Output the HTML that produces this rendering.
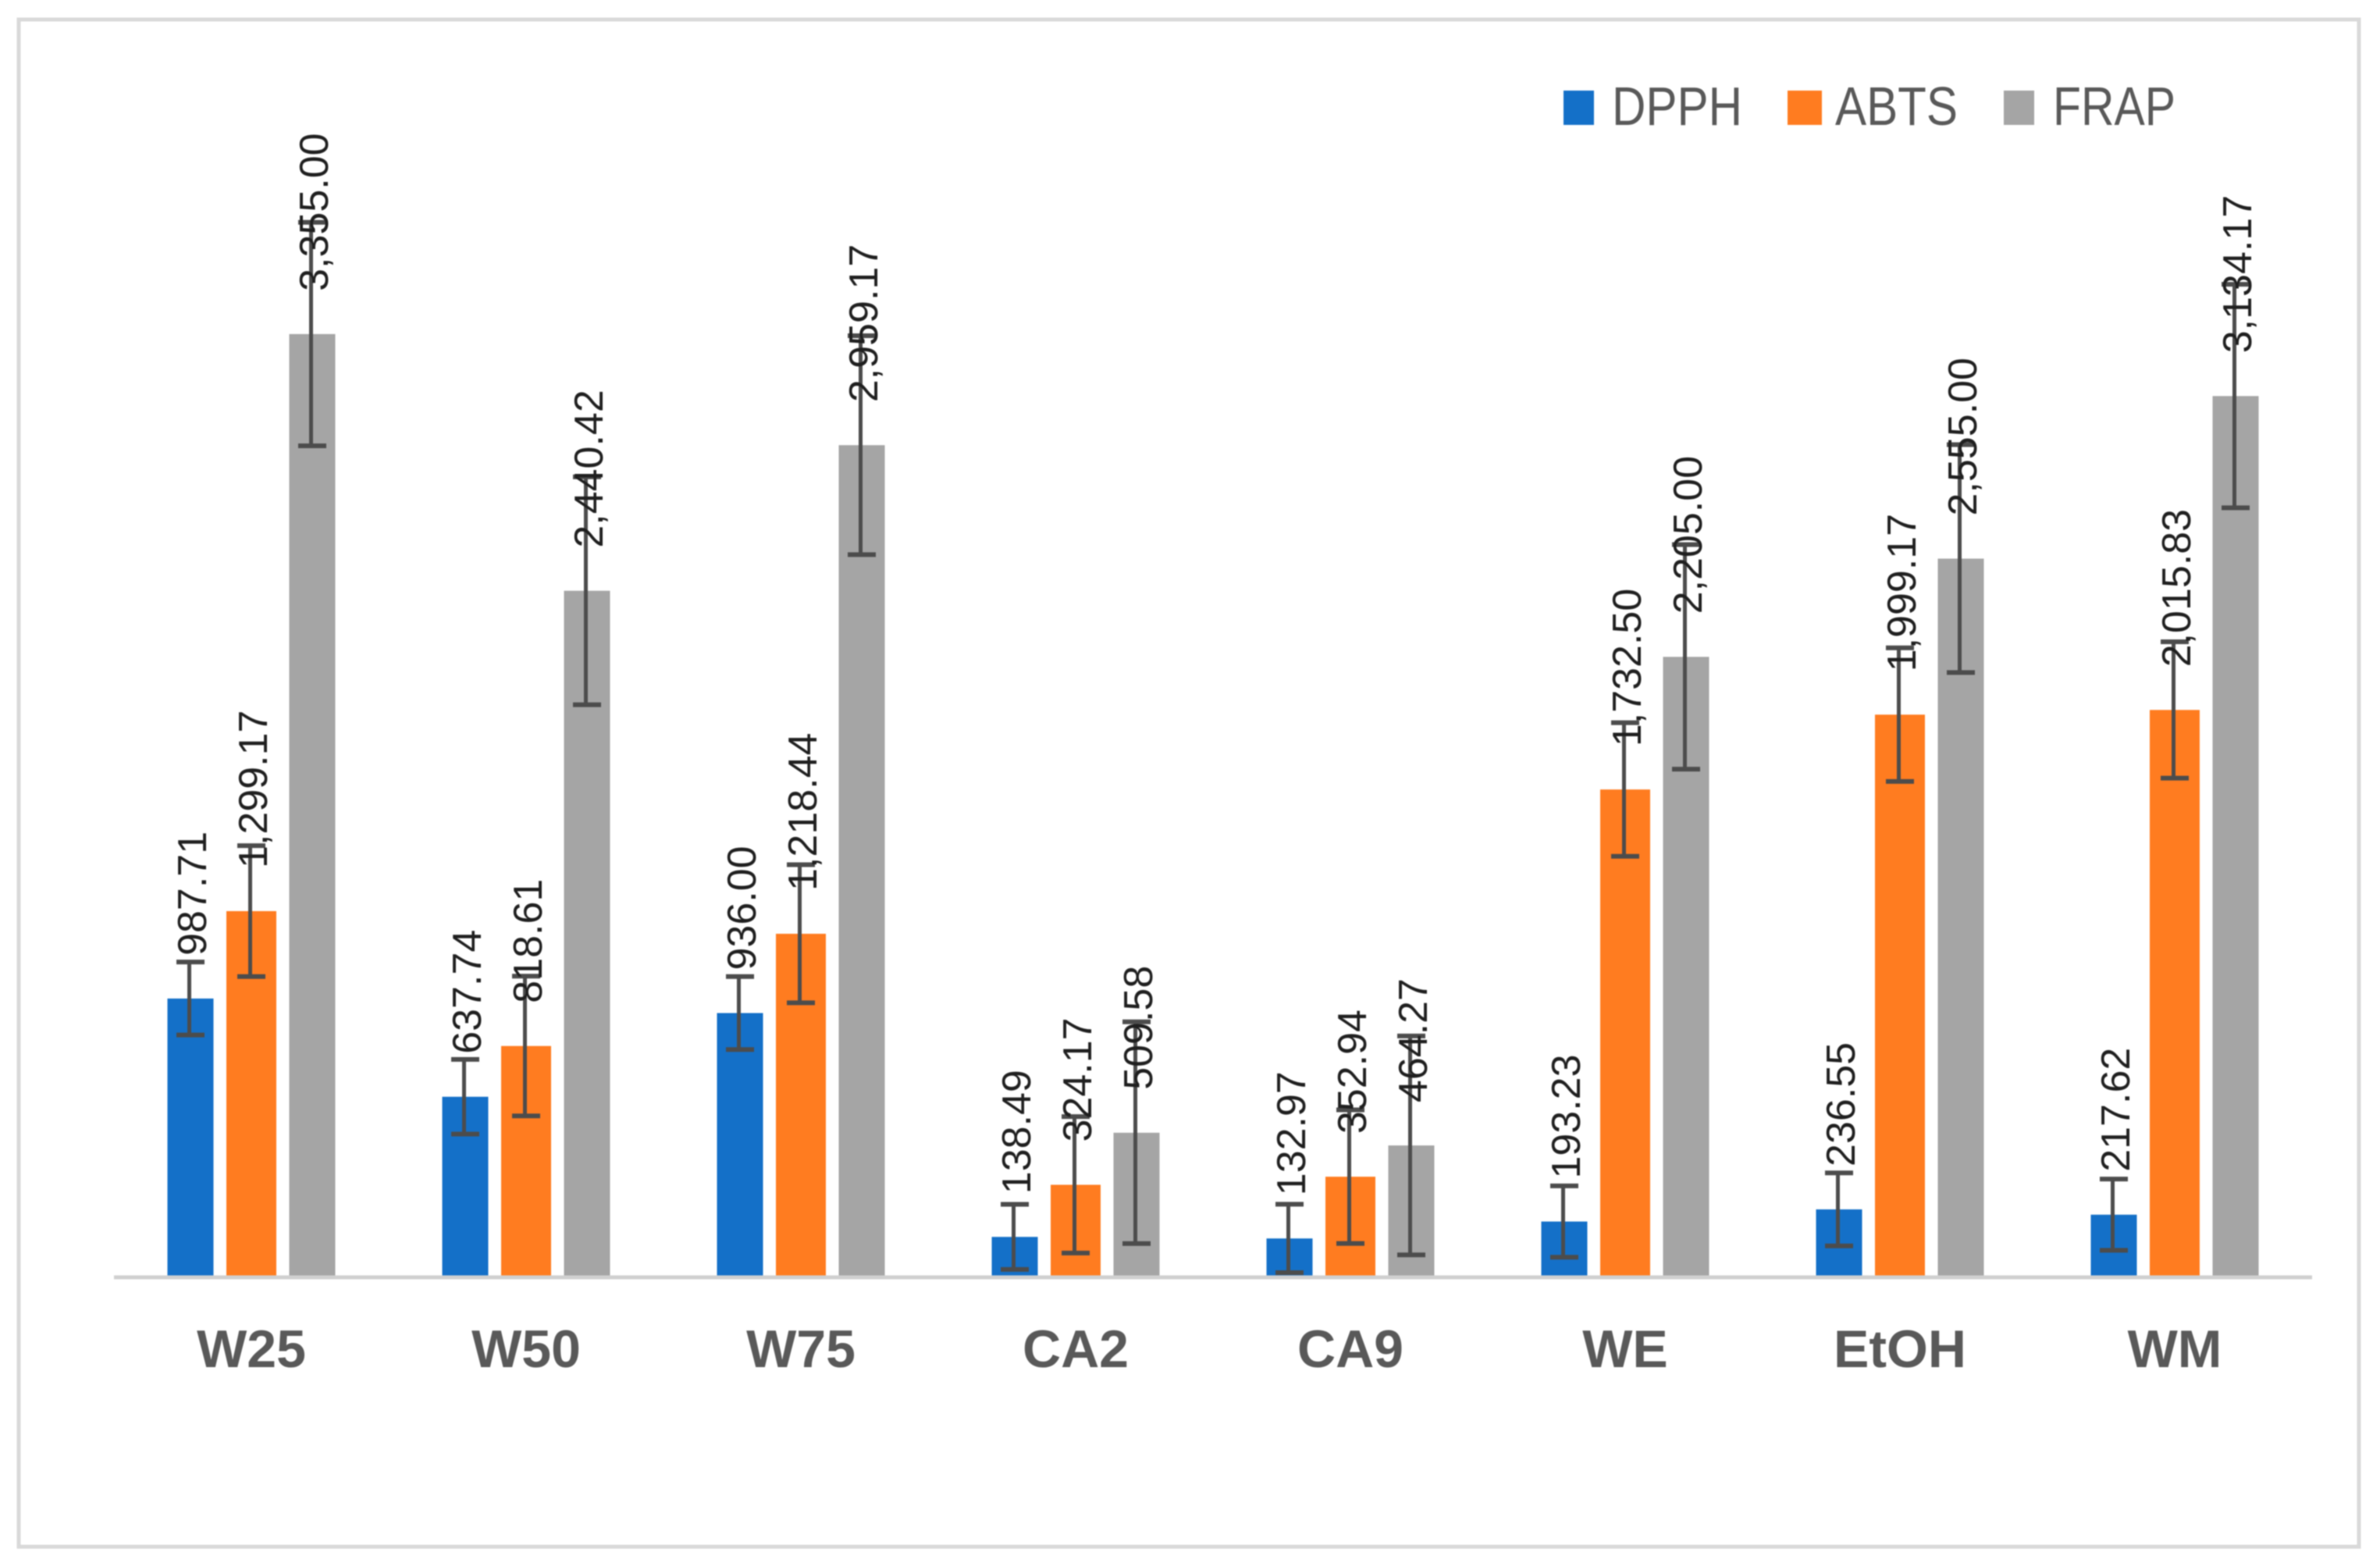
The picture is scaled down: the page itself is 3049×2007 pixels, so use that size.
<!DOCTYPE html>
<html lang="en">
<head>
<meta charset="utf-8">
<title>Antioxidant activity chart</title>
<style>
html,body{margin:0;padding:0;background:#fff;width:3049px;height:2007px;overflow:hidden}
svg{display:block;filter:blur(0.8px)}
text{font-family:"Liberation Sans",sans-serif}
</style>
</head>
<body>
<svg id="chart" xmlns="http://www.w3.org/2000/svg" width="3049" height="2007" viewBox="0 0 3049 2007">
  <rect x="0" y="0" width="3049" height="2007" fill="#ffffff"/>
  <rect x="24" y="25" width="2998" height="1956" fill="#ffffff" stroke="#d9d9d9" stroke-width="5"/>
  <g id="marks"></g>
  <line x1="146" y1="1636" x2="2962" y2="1636" stroke="#d0d0d0" stroke-width="5"/>
  <g id="labels"></g>
  <g>
    <g>
      <rect x="2003" y="116" width="39" height="44" fill="#1470c8"/>
      <text x="2065" y="160" font-size="70" fill="#595959" textLength="167" lengthAdjust="spacingAndGlyphs">DPPH</text>
    </g>
    <g>
      <rect x="2290" y="116" width="44" height="44" fill="#ff7c20"/>
      <text x="2351" y="160" font-size="70" fill="#595959" textLength="157" lengthAdjust="spacingAndGlyphs">ABTS</text>
    </g>
    <g>
      <rect x="2567" y="116" width="39" height="44" fill="#a5a5a5"/>
      <text x="2630" y="160" font-size="70" fill="#595959" textLength="157" lengthAdjust="spacingAndGlyphs">FRAP</text>
    </g>
  </g>
</svg>
<script>
const categories = ["W25", "W50", "W75", "CA2", "CA9", "WE", "EtOH", "WM"];
const dpphValues = [987.71, 637.74, 936.00, 138.49, 132.97, 193.23, 236.55, 217.62];
const abtsValues = [1299.17, 818.61, 1218.44, 324.17, 352.94, 1732.50, 1999.17, 2015.83];
const frapValues = [3355.00, 2440.42, 2959.17, 509.58, 464.27, 2205.00, 2555.00, 3134.17];
const dpphErrors = [130, 133, 130, 116, 122, 127, 130, 127];
const abtsErrors = [233, 249, 246, 243, 238, 238, 238, 243];
const frapErrors = [398, 406, 390, 395, 390, 400, 406, 398];

const SVG_NS = "http://www.w3.org/2000/svg";
const marks = document.getElementById("marks");
const labels = document.getElementById("labels");

function yScale(v) { return 1634 - v * 0.3595; }
function xCenter(i) { return 322 + i * 352; }
function formatValue(v) {
  return v.toLocaleString("en-US", { minimumFractionDigits: 2, maximumFractionDigits: 2 });
}
function make(tag, parent) {
  const el = document.createElementNS(SVG_NS, tag);
  parent.appendChild(el);
  return el;
}
function place(el, x, y, w, h, fill) {
  el.setAttribute("x", x);
  el.setAttribute("y", y);
  el.setAttribute("width", w);
  el.setAttribute("height", h);
  el.setAttribute("fill", fill);
}
function stroke(el, x1, y1, x2, y2, sw) {
  el.setAttribute("x1", x1);
  el.setAttribute("y1", y1);
  el.setAttribute("x2", x2);
  el.setAttribute("y2", y2);
  el.setAttribute("stroke", "#4c4c4c");
  el.setAttribute("stroke-width", sw);
}

function drawSeries(seriesName, values, errors, offset, barWidth, color) {
  values.forEach(function (v, i) {
    const cx = xCenter(i) + offset;
    const top = yScale(v);
    const base = yScale(0);

    const bar = make("rect", marks);
    
    
    bar.setAttribute("data-series", seriesName);
    bar.setAttribute("data-category", categories[i]);
    place(bar, cx - barWidth / 2, top, barWidth, base - top, color);

    const hi = yScale(v + errors[i]);
    const lo = yScale(v - errors[i]);

    const whisker = make("line", marks);
    
    
    stroke(whisker, cx - 1.5, hi, cx - 1.5, lo, 5);

    const capTop = make("line", marks);
    
    
    stroke(capTop, cx - 18, hi, cx + 18, hi, 6);

    const capBottom = make("line", marks);
    
    
    stroke(capBottom, cx - 18, lo, cx + 18, lo, 6);
  });
}

function drawDataLabels(values, offset) {
  values.forEach(function (v, i) {
    const x = xCenter(i) + offset + 20;
    const y = yScale(v) - 55;
    const t = make("text", marks);
    
    
    t.setAttribute("transform", "translate(" + x + " " + y + ") rotate(-90)");
    t.setAttribute("font-size", "52");
    t.setAttribute("fill", "#1f1f1f");
    t.textContent = formatValue(v);
  });
}

drawSeries("DPPH", dpphValues, dpphErrors, -78, 59, "#1470c8");
drawSeries("ABTS", abtsValues, abtsErrors, 0, 64, "#ff7c20");
drawSeries("FRAP", frapValues, frapErrors, 78, 59, "#a5a5a5");
drawDataLabels(dpphValues, -78);
drawDataLabels(abtsValues, 0);
drawDataLabels(frapValues, 78);

categories.forEach(function (c, i) {
  const t = make("text", labels);
  
  
  t.setAttribute("x", xCenter(i));
  t.setAttribute("y", 1751);
  t.setAttribute("text-anchor", "middle");
  t.setAttribute("font-size", "68");
  t.setAttribute("font-weight", "bold");
  t.setAttribute("fill", "#595959");
  t.textContent = c;
});
</script>
</body>
</html>
